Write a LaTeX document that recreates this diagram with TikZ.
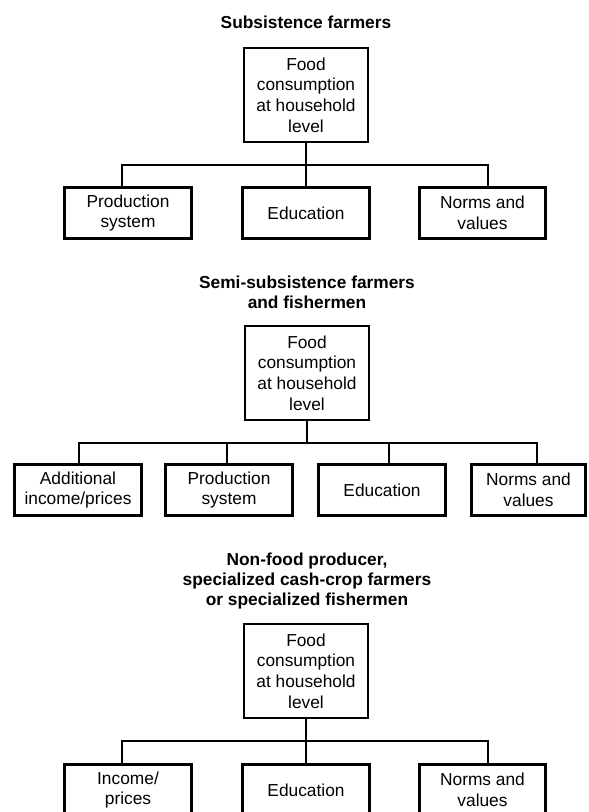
\documentclass[tikz,border=0pt]{standalone}
\usepackage{fontspec}
\setmainfont{Liberation Sans}
\newcommand{\boxfont}{\fontsize{13}{15.5}\selectfont}
\newcommand{\headfont}{\fontsize{13}{15}\selectfont\bfseries}
\tikzset{
  mainbox/.style={draw, line width=2.2pt, minimum width=93pt, minimum height=70.5pt,
    inner sep=0pt, align=center, font=\boxfont},
  factorbox/.style={draw, line width=2.2pt, minimum width=95pt, minimum height=38.25pt,
    inner sep=0pt, align=center, font=\boxfont},
  grouphead/.style={align=center, font=\headfont},
  branch/.style={line width=0.9pt}
}
\begin{document}
\begin{tikzpicture}[x=0.75pt,y=-0.75pt]
\useasboundingbox (0,0) rectangle (588,812);
\clip (0,0) rectangle (588,812);

% subsistence farmers
\node[grouphead] (head1) at (306,22) {Subsistence farmers};
\node[mainbox] (food1) at (306,95) {Food\\consumption\\at household\\level};
\node[factorbox] (prod1) at (128,213) {Production\\system};
\node[factorbox] (edu1) at (306,213) {Education};
\node[factorbox] (norm1) at (482.5,213) {Norms and\\values};
\coordinate (left1) at (122,165);
\coordinate (right1) at (488,165);
\draw[branch] (food1.south) -- (edu1.north);
\draw[branch] (left1 |- prod1.north) -- (left1) -- (right1) -- (right1 |- norm1.north);

% semi-subsistence farmers
\node[grouphead] (head2) at (307,292) {Semi-subsistence farmers\\and fishermen};
\node[mainbox] (food2) at (307,373) {Food\\consumption\\at household\\level};
\node[factorbox] (inc2) at (78,490) {Additional\\income/prices};
\node[factorbox] (prod2) at (229,490) {Production\\system};
\node[factorbox] (edu2) at (382,490) {Education};
\node[factorbox, minimum width=85.5pt] (norm2) at (528.5,490) {Norms and\\values};
\coordinate (left2) at (79,443);
\coordinate (right2) at (537,443);
\coordinate (mid2a) at (227,443);
\coordinate (mid2b) at (389,443);
\draw[branch] (food2.south) -- (food2.south |- left2);
\draw[branch] (left2 |- inc2.north) -- (left2) -- (right2) -- (right2 |- norm2.north);
\draw[branch] (mid2a) -- (mid2a |- prod2.north);
\draw[branch] (mid2b) -- (mid2b |- edu2.north);

% non-food producers
\node[grouphead] (head3) at (307,581) {Non-food producer,\\specialized cash-crop farmers\\or specialized fishermen};
\node[mainbox] (food3) at (306,671) {Food\\consumption\\at household\\level};
\node[factorbox] (inc3) at (128,790) {Income/\\prices};
\node[factorbox] (edu3) at (306,790) {Education};
\node[factorbox] (norm3) at (482.5,790) {Norms and\\values};
\coordinate (left3) at (122,741);
\coordinate (right3) at (488,741);
\draw[branch] (food3.south) -- (edu3.north);
\draw[branch] (left3 |- inc3.north) -- (left3) -- (right3) -- (right3 |- norm3.north);
\end{tikzpicture}
\end{document}
